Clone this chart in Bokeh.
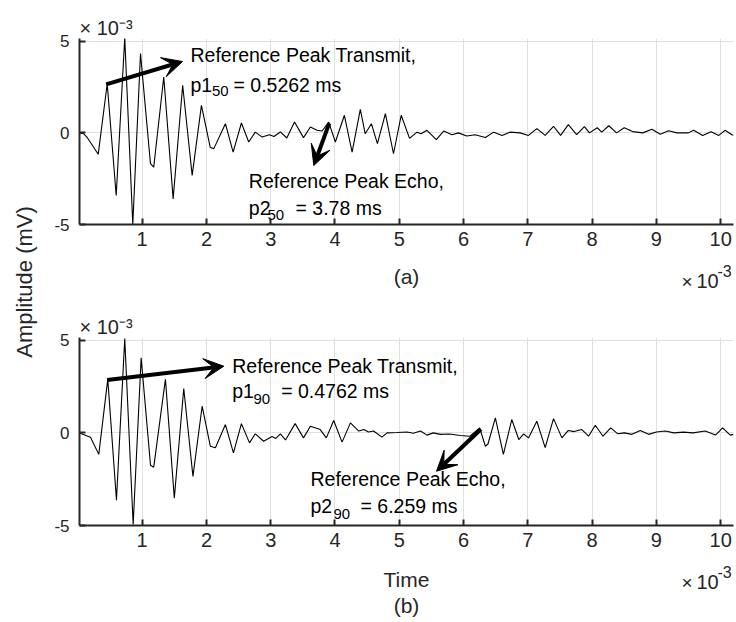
import math
from bokeh.plotting import figure
from bokeh.models import Range1d, FixedTicker, Label, Arrow, VeeHead
from bokeh.layouts import row, column
from bokeh.embed import file_html
from bokeh.resources import INLINE

# ---------------- data (time in units of 1e-3 s, amplitude in units of 1e-3 mV)
time_a = [0.025, 0.09, 0.145, 0.316, 0.456, 0.596, 0.729, 0.854, 0.974, 1.129,
          1.18, 1.336, 1.482, 1.63, 1.778, 1.922, 2.06, 2.115, 2.295, 2.415,
          2.544, 2.658, 2.76, 2.866, 2.98, 3.05, 3.15, 3.25, 3.37, 3.51,
          3.617, 3.72, 3.80, 3.902, 4.006, 4.146, 4.266, 4.394, 4.47, 4.566,
          4.66, 4.784, 4.91, 5.03, 5.16, 5.276, 5.34, 5.43, 5.577, 5.69,
          5.82, 5.92, 6.05, 6.18, 6.34, 6.468, 6.6, 6.72, 6.88, 7.01,
          7.14, 7.27, 7.40, 7.51, 7.63, 7.76, 7.88, 7.96, 8.08, 8.15,
          8.26, 8.38, 8.50, 8.63, 8.79, 8.93, 9.06, 9.19, 9.32, 9.50,
          9.58, 9.72, 9.85, 9.97, 10.07, 10.18, 10.2]
amp_a = [0.0, -0.05, -0.25, -1.17, 2.68, -3.42, 5.2, -5.0, 4.33, -1.68,
         -1.87, 3.05, -3.6, 2.6, -2.32, 1.5, -0.8, -0.86, 0.5, -1.05,
         0.54, -0.5, 0.04, -0.23, -0.1, -0.2, 0.05, -0.28, 0.59, -0.26,
         0.32, 0.14, 0.1, 0.59, -0.5, 0.96, -1.05, 1.28, -0.05, 0.5,
         -0.59, 1.05, -1.14, 0.96, -0.3, 0.04, -0.05, 0.14, -0.37, 0.1,
         -0.1, 0.0, -0.17, -0.1, -0.25, 0.04, -0.14, 0.04, 0.0, -0.14,
         0.23, -0.14, 0.36, -0.14, 0.45, -0.1, 0.34, 0.0, 0.28, 0.04,
         0.39, 0.0, 0.28, 0.07, 0.0, 0.2, -0.08, 0.12, 0.0, 0.0,
         0.14, -0.14, 0.06, -0.14, 0.14, -0.12, -0.1]

time_b = [0.025, 0.196, 0.325, 0.465, 0.6, 0.729, 0.86, 0.984, 1.13, 1.18,
          1.362, 1.50, 1.647, 1.79, 1.933, 2.06, 2.14, 2.295, 2.42, 2.544,
          2.67, 2.76, 2.89, 3.02, 3.08, 3.15, 3.23, 3.38, 3.51, 3.617,
          3.77, 3.865, 3.98, 4.11, 4.24, 4.37, 4.45, 4.52, 4.6, 4.73,
          4.81, 4.97, 5.12, 5.22, 5.33, 5.43, 5.53, 5.64, 5.78, 5.95,
          6.1, 6.25, 6.34, 6.38, 6.495, 6.62, 6.75, 6.86, 6.935, 7.01,
          7.14, 7.27, 7.40, 7.53, 7.63, 7.72, 7.84, 7.945, 8.05, 8.17,
          8.29, 8.40, 8.50, 8.62, 8.75, 8.88, 9.00, 9.14, 9.27, 9.42,
          9.57, 9.76, 9.92, 10.03, 10.15, 10.2]
amp_b = [0.0, -0.23, -1.16, 2.9, -3.63, 5.1, -4.95, 4.05, -1.75, -1.85,
         2.9, -3.52, 2.4, -2.35, 1.44, -0.72, -0.8, 0.45, -1.08, 0.5,
         -0.54, -0.05, -0.45, -0.2, -0.3, -0.05, -0.38, 0.5, -0.27, 0.36,
         0.18, -0.27, 0.67, -0.5, 0.54, 0.1, 0.18, 0.05, 0.1, -0.23,
         0.0, 0.02, 0.05, -0.02, 0.1, -0.12, 0.0, -0.08, -0.06, -0.14,
         -0.18, 0.27, -0.72, -0.6, 0.81, -1.16, 0.72, -0.36, -0.05, -0.27,
         0.63, -0.8, 0.77, -0.27, 0.13, 0.07, 0.18, -0.18, 0.41, -0.18,
         0.27, -0.05, 0.0, -0.08, 0.13, -0.08, 0.05, 0.1, 0.0, 0.04,
         0.0, 0.1, -0.12, 0.27, -0.12, -0.08]

x_ticks = [1, 2, 3, 4, 5, 6, 7, 8, 9, 10]
y_ticks = [-5, 0, 5]
y_tick_labels = ["-5", "0", "5"]

# reference peaks marked by arrows (time, amplitude)
peak_tx_a = (0.44, 2.65)
peak_echo_a = (3.91, 0.52)
peak_tx_b = (0.455, 2.85)
peak_echo_b = (6.27, 0.2)

# ---------------- layout geometry (page pixels; the Bokeh page has no body margin)
FONT = "Liberation Sans"
AX_COLOR = "#262626"
X0, X1 = 0.025, 10.2
Y0, Y1 = -5.0, 5.15
LAB_W = 40
FIG_W = 695
FR_L, FR_R = 79, 733
BASE_FIX = 6.5   # Bokeh draws "alphabetic" labels a little low
PA = (0, 258)
FR_A = (38, 224)
S2 = (258, 300)
PB = (300, 560)
FR_B = (337, 525)
S3 = (560, 620)


def dx(sx):
    return X0 + (sx - FR_L) / (FR_R - FR_L) * (X1 - X0)


def base_fig(h, xr, yr, top, bottom):
    return figure(width=FIG_W, height=h, x_range=xr, y_range=yr,
                  output_backend="svg", toolbar_location=None,
                  min_border_left=FR_L - LAB_W,
                  min_border_right=(LAB_W + FIG_W) - FR_R,
                  min_border_top=top, min_border_bottom=bottom)


def make_panel(top, bot, fr, t, a):
    fr_t, fr_b = fr
    p = base_fig(bot - top, Range1d(X0, X1), Range1d(Y0, Y1), fr_t - top, bot - fr_b)
    p.outline_line_color = None
    # exponent of the y axis, shown above its top-left corner
    p.title.text = "× 10⁻³"
    p.title.align = "left"
    p.title.offset = 0
    p.title.standoff = 0
    p.title.text_font = FONT
    p.title.text_font_size = "20px"
    p.title.text_font_style = "normal"
    p.title.text_color = AX_COLOR
    p.line(t, a, line_color="black", line_width=1.1)
    for ax in (p.xaxis[0], p.yaxis[0]):
        ax.axis_line_color = AX_COLOR
        ax.axis_line_width = 2
        ax.major_tick_line_color = AX_COLOR
        ax.major_tick_line_width = 2
        ax.major_tick_in = 6
        ax.major_tick_out = 0
        ax.minor_tick_line_color = None
        ax.major_label_text_color = AX_COLOR
        ax.major_label_text_font = FONT
    p.xaxis.ticker = FixedTicker(ticks=x_ticks)
    p.yaxis.ticker = FixedTicker(ticks=y_ticks)
    p.yaxis.major_label_overrides = {v: s for v, s in zip(y_ticks, y_tick_labels)}
    p.xaxis.major_label_text_font_size = "20px"
    p.yaxis.major_label_text_font_size = "17px"
    p.xaxis.major_label_standoff = 7
    p.yaxis.major_label_standoff = 10
    p.xgrid.grid_line_color = "#e0e0e0"
    p.ygrid.grid_line_color = "#e0e0e0"

    def dy(sy):
        return Y1 - (sy - fr_t) / (fr_b - fr_t) * (Y1 - Y0)

    def text(sx, sy, s, size, align="left", color="black"):
        p.add_layout(Label(x=dx(sx), y=dy(sy - BASE_FIX), text=s, text_font=FONT,
                           text_font_size=f"{size}px", text_color=color,
                           text_align=align, text_baseline="alphabetic"))

    def arrow(start, sx2, sy2):
        p.add_layout(Arrow(x_start=start[0], y_start=start[1],
                           x_end=dx(sx2), y_end=dy(sy2),
                           line_color="black", line_width=4,
                           end=VeeHead(size=20, fill_color="black",
                                       line_color="black", line_width=1)))
    return p, text, arrow


def make_strip(top, bot):
    h = bot - top
    s = base_fig(h, Range1d(X0, X1), Range1d(0, h), 0, 0)
    s.xaxis.visible = False
    s.yaxis.visible = False
    s.outline_line_color = None
    s.xgrid.visible = False
    s.ygrid.visible = False

    def text(sx, sy, txt, size, align="left", color=AX_COLOR):
        s.add_layout(Label(x=dx(sx), y=bot - (sy - BASE_FIX), text=txt, text_font=FONT,
                           text_font_size=f"{size}px", text_color=color,
                           text_align=align, text_baseline="alphabetic"))
    return s, text


def exponent(text, sx, sy):
    text(sx, sy, "×", 19)
    text(sx + 15, sy, "10", 20)
    text(sx + 36, sy - 10, "-3", 16)


pa, text_a, arrow_a = make_panel(PA[0], PA[1], FR_A, time_a, amp_a)
pb, text_b, arrow_b = make_panel(PB[0], PB[1], FR_B, time_b, amp_b)
s2, text_s2 = make_strip(*S2)
s3, text_s3 = make_strip(*S3)

exponent(text_s2, 681, 287)
exponent(text_s3, 681, 588)
text_s2(406, 282, "(a)", 21, align="center")
text_s3(406, 585, "Time", 21, align="center")
text_s3(406, 611, "(b)", 21, align="center")

# annotations panel (a)
arrow_a(peak_tx_a, 182, 61)
text_a(190, 61, "Reference Peak Transmit,", 19.5)
text_a(190, 90.5, "p1", 19.5)
text_a(211.5, 96.5, "50", 15)
text_a(233, 90.5, "= 0.5262 ms", 19.5)
arrow_a(peak_echo_a, 313.3, 165)
text_a(248.3, 187, "Reference Peak Echo,", 19.5)
text_a(248.3, 213.5, "p2", 19.5)
text_a(267, 221, "50", 15)
text_a(295, 213.5, "= 3.78 ms", 19.5)

# annotations panel (b)
arrow_b(peak_tx_b, 223.3, 365.7)
text_b(231.7, 371.7, "Reference Peak Transmit,", 19.5)
text_b(231.7, 396.5, "p1", 19.5)
text_b(253, 404.5, "90", 15)
text_b(280.7, 396.5, "= 0.4762 ms", 19.5)
arrow_b(peak_echo_b, 436, 470.7)
text_b(310, 485, "Reference Peak Echo,", 19.5)
text_b(310, 511.5, "p2", 19.5)
text_b(333, 519.5, "90", 15)
text_b(360, 511.5, "= 6.259 ms", 19.5)

# y label column
H = S3[1]
pl = figure(width=LAB_W, height=H, x_range=Range1d(0, LAB_W), y_range=Range1d(0, H),
            output_backend="svg", toolbar_location=None,
            x_axis_type=None, y_axis_type=None,
            min_border_left=0, min_border_right=0, min_border_top=0, min_border_bottom=0)
pl.outline_line_color = None
pl.xgrid.visible = False
pl.ygrid.visible = False
pl.add_layout(Label(x=24, y=H - 281.5, text="Amplitude (mV)",
                    angle=math.pi / 2, text_font=FONT, text_font_size="22px",
                    text_color=AX_COLOR, text_align="center", text_baseline="middle"))

layout = row(pl, column(pa, s2, pb, s3, spacing=0), spacing=0)
open("out.html", "w").write(file_html(layout, INLINE))
